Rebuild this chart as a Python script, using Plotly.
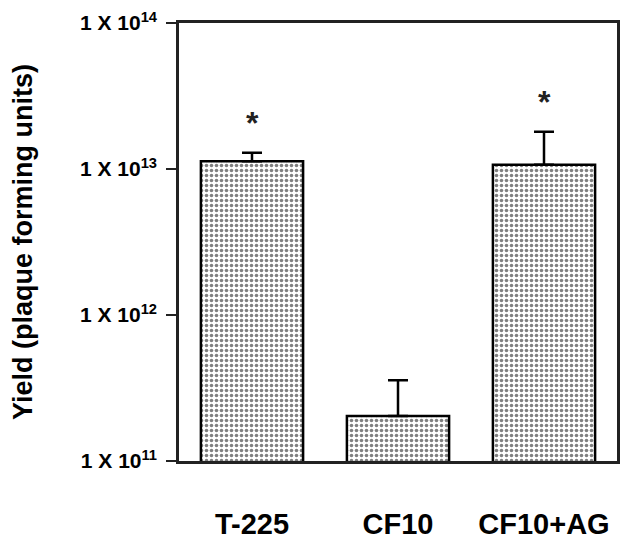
import plotly.graph_objects as go
import numpy as np

categories = ["T-225", "CF10", "CF10+AG"]
yields = [1.13e13, 2.03e11, 1.07e13]
err_plus = [0.16e13, 1.55e11, 0.73e13]
significant = [True, False, True]
tick_vals = [1e11, 1e12, 1e13, 1e14]
tick_text = ["1 X 10<sup>11</sup>", "1 X 10<sup>12</sup>",
             "1 X 10<sup>13</sup>", "1 X 10<sup>14</sup>"]

FONT = "Liberation Sans, Arial, sans-serif"

fig = go.Figure()
fig.add_trace(go.Bar(
    x=categories, y=yields, width=0.7,
    marker=dict(color="white", line=dict(color="black", width=2.5),
                pattern=dict(shape=".", fgcolor="black", bgcolor="white", size=5, solidity=0.4)),
    error_y=dict(type="data", symmetric=False, array=err_plus, arrayminus=[0]*3,
                 color="black", thickness=2.5, width=10),
))

for c, v, e, s in zip(categories, yields, err_plus, significant):
    if s:
        fig.add_annotation(x=c, y=np.log10((v + e) * 1.6), text="<b>*</b>", showarrow=False,
                           font=dict(size=32, color="#222", family=FONT), yanchor="middle")

fig.update_layout(
    width=620, height=543,
    margin=dict(l=179, r=3, t=23, b=80),
    paper_bgcolor="white", plot_bgcolor="white",
    showlegend=False, bargap=0.3,
    font=dict(family=FONT, color="black"),
)
fig.update_yaxes(type="log", range=[11, 14], tickmode="array", tickvals=tick_vals, ticktext=tick_text,
                 ticks="outside", ticklen=10, tickwidth=2, tickcolor="#222",
                 showline=True, linecolor="#222", linewidth=2.5, mirror=True,
                 showgrid=False, zeroline=False, automargin=False,
                 tickfont=dict(size=21, family=FONT, weight="bold"), ticklabelstandoff=5,
                 title=dict(text="<b>Yield (plaque forming units)</b>", font=dict(size=27, family=FONT), standoff=40))
fig.update_xaxes(range=[-0.5, 2.5], showline=True, linecolor="#222", linewidth=2.5, mirror=True,
                 ticks="", showgrid=False,
                 tickfont=dict(size=29, family=FONT, weight="bold"),
                 ticklabelstandoff=35)
fig.write_html("out.html")
